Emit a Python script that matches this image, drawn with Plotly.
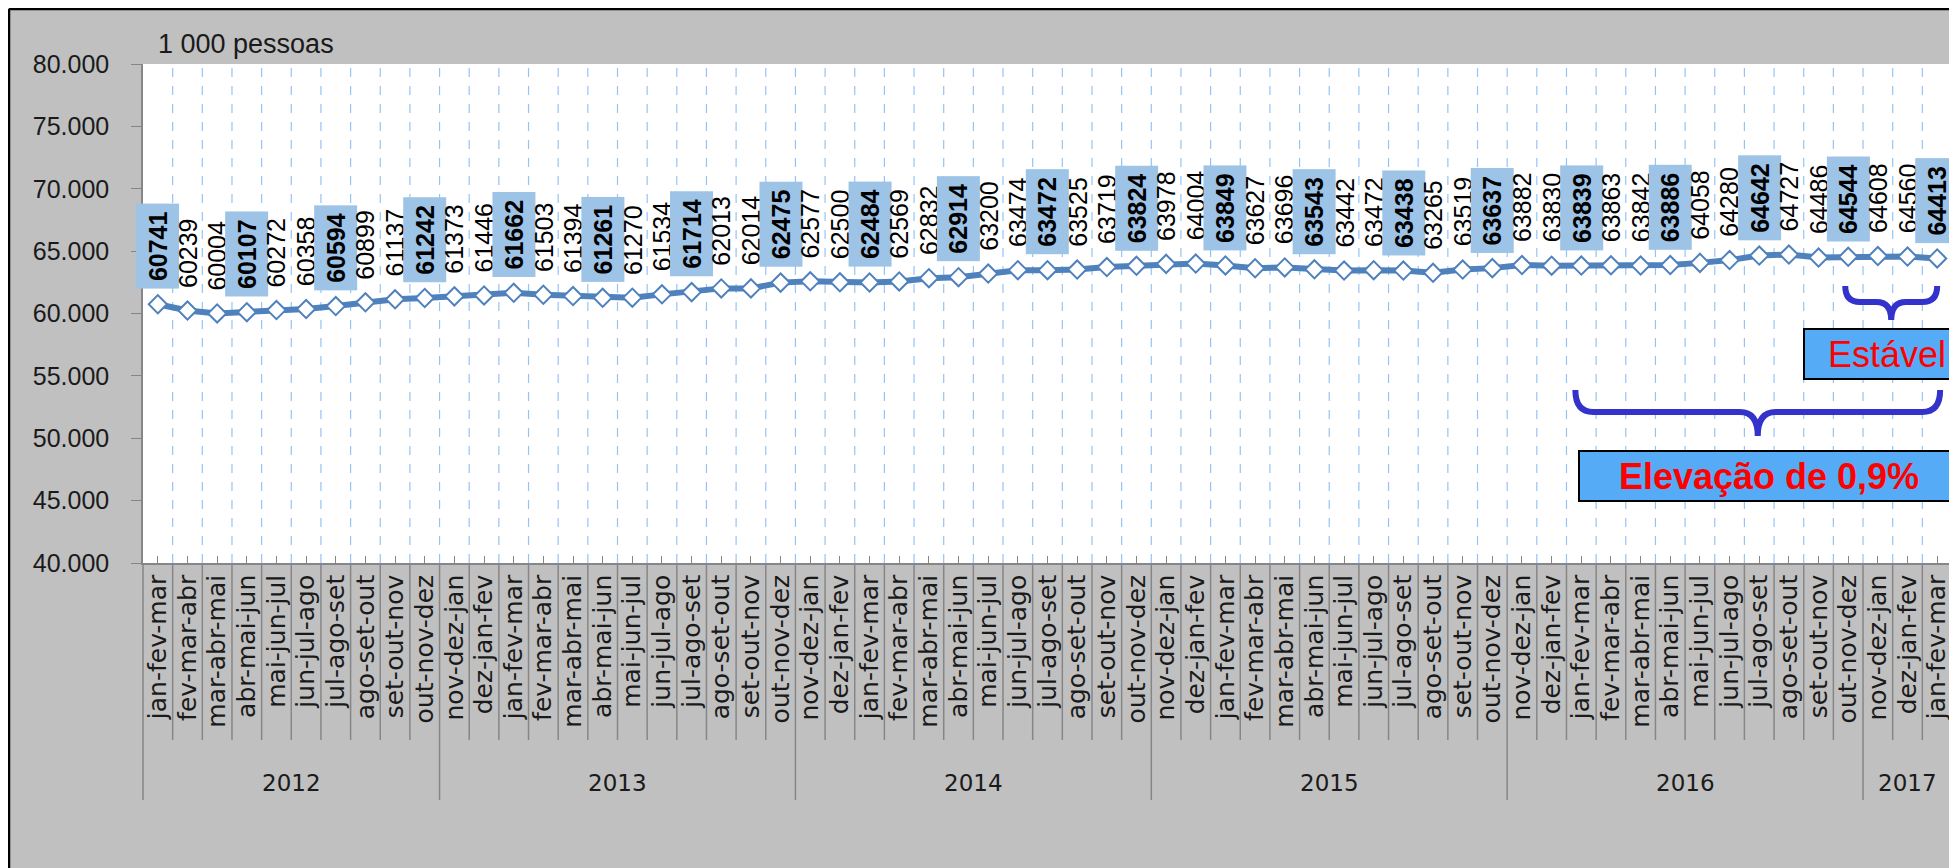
import plotly.graph_objects as go

# ---------------- data ----------------
years = ["2012"] * 10 + ["2013"] * 12 + ["2014"] * 12 + ["2015"] * 12 + ["2016"] * 12 + ["2017"] * 3

categories = [
    "jan-fev-mar", "fev-mar-abr", "mar-abr-mai", "abr-mai-jun", "mai-jun-jul", "jun-jul-ago",
    "jul-ago-set", "ago-set-out", "set-out-nov", "out-nov-dez",
    "nov-dez-jan", "dez-jan-fev", "jan-fev-mar", "fev-mar-abr", "mar-abr-mai", "abr-mai-jun",
    "mai-jun-jul", "jun-jul-ago", "jul-ago-set", "ago-set-out", "set-out-nov", "out-nov-dez",
    "nov-dez-jan", "dez-jan-fev", "jan-fev-mar", "fev-mar-abr", "mar-abr-mai", "abr-mai-jun",
    "mai-jun-jul", "jun-jul-ago", "jul-ago-set", "ago-set-out", "set-out-nov", "out-nov-dez",
    "nov-dez-jan", "dez-jan-fev", "jan-fev-mar", "fev-mar-abr", "mar-abr-mai", "abr-mai-jun",
    "mai-jun-jul", "jun-jul-ago", "jul-ago-set", "ago-set-out", "set-out-nov", "out-nov-dez",
    "nov-dez-jan", "dez-jan-fev", "jan-fev-mar", "fev-mar-abr", "mar-abr-mai", "abr-mai-jun",
    "mai-jun-jul", "jun-jul-ago", "jul-ago-set", "ago-set-out", "set-out-nov", "out-nov-dez",
    "nov-dez-jan", "dez-jan-fev", "jan-fev-mar",
]

values = [
    60741, 60239, 60004, 60107, 60272, 60358, 60594, 60899, 61137, 61242,
    61373, 61446, 61662, 61503, 61394, 61261, 61270, 61534, 61714, 62013, 62014, 62475,
    62577, 62500, 62484, 62569, 62832, 62914, 63200, 63474, 63472, 63525, 63719, 63824,
    63978, 64004, 63849, 63627, 63696, 63543, 63442, 63472, 63438, 63265, 63519, 63637,
    63882, 63830, 63839, 63863, 63842, 63886, 64058, 64280, 64642, 64727, 64486, 64544,
    64608, 64560, 64413,
]

y_ticks = [40000, 45000, 50000, 55000, 60000, 65000, 70000, 75000, 80000]
unit_label = "1 000 pessoas"
note_stable = "Estável"
note_rise = "Elevação de 0,9%"

# ---------------- layout helpers (window pixel coordinates) ----------------
WIN_W, WIN_H = 1957, 868
OFF = 8  # page body margin
W, H = WIN_W - OFF, WIN_H - OFF
L, R, T, B = 143, 1952, 64, 563  # plot area in window pixels
n = len(values)
xs = list(range(n))


def px(X):
    return (X - L) / (R - L)


def py(Y):
    return (B - Y) / (B - T)


def xpaper(xv):
    return (xv + 0.5) / n


LINE_BLUE = "rgb(79,129,189)"
GRID_BLUE = "rgb(150,195,245)"
SEP_GRAY = "rgb(134,134,134)"
BOX_BLUE = "rgb(157,195,230)"
BRACE = "rgb(51,51,204)"
NOTE_BG = "rgb(86,171,246)"

fig = go.Figure()
fig.add_trace(go.Scatter(
    x=xs, y=values, mode="lines+markers",
    line=dict(color=LINE_BLUE, width=6),
    marker=dict(symbol="diamond", size=14, color="white",
                line=dict(color=LINE_BLUE, width=2)),
    hoverinfo="skip", showlegend=False,
))

shapes = []
# black frame
shapes.append(dict(type="line", xref="paper", yref="paper", x0=px(9), x1=px(WIN_W + 20), y0=py(9), y1=py(9),
                   line=dict(color="black", width=2.5)))
shapes.append(dict(type="line", xref="paper", yref="paper", x0=px(9), x1=px(9), y0=py(9), y1=py(WIN_H + 20),
                   line=dict(color="black", width=2.5)))

# dashed vertical gridlines between categories
for i in range(n - 1):
    shapes.append(dict(type="line", xref="paper", yref="paper", x0=xpaper(i + 0.5), x1=xpaper(i + 0.5),
                       y0=0, y1=1, layer="below", line=dict(color=GRID_BLUE, width=1.2, dash="dash")))

# category separators below the axis, and year separators
year_bounds = [0]
for i in range(1, n):
    if years[i] != years[i - 1]:
        year_bounds.append(i)
year_bounds.append(n)
for i in range(n + 1):
    xb = xpaper(i - 0.5)
    long_ = i in year_bounds
    shapes.append(dict(type="line", xref="paper", yref="paper", x0=xb, x1=xb, y0=0,
                       y1=py(800) if long_ else py(740),
                       line=dict(color=SEP_GRAY, width=1.5)))


# braces
def brace(x0, x1, ytop, ymid, ytip, r=0.6):
    xc = (x0 + x1) / 2
    a, b, c = py(ytop), py(ymid), py(ytip)
    path = (f"M {x0},{a} Q {x0},{b} {x0 + r},{b} L {xc - r},{b} Q {xc},{b} {xc},{c} "
            f"Q {xc},{b} {xc + r},{b} L {x1 - r},{b} Q {x1},{b} {x1},{a}")
    return dict(type="path", xref="x", yref="paper", path=path,
                line=dict(color=BRACE, width=6), layer="above")


shapes.append(brace(47.8, 60.1, 390, 412, 436))
shapes.append(brace(56.9, 60.0, 286, 302, 320, r=0.5))

annotations = []
# value labels
for i, v in enumerate(values):
    bold = (i % 3 == 0)
    annotations.append(dict(
        x=i, y=v, xref="x", yref="y", text=f"<b>{v}</b>" if bold else str(v),
        textangle=-90, showarrow=False, yanchor="bottom", xanchor="center", yshift=15,
        font=dict(family="Liberation Sans, Arial", size=25, color="black"),
        bgcolor=BOX_BLUE if bold else "rgba(0,0,0,0)", borderpad=7,
    ))

# year labels
for k in range(len(year_bounds) - 1):
    a, b = year_bounds[k], year_bounds[k + 1]
    annotations.append(dict(
        x=xpaper((a + b - 1) / 2), y=py(783), xref="paper", yref="paper", text=years[a],
        showarrow=False, xanchor="center", yanchor="middle",
        font=dict(family="DejaVu Sans", size=23, color="#1a1a1a"),
    ))

# unit label
annotations.append(dict(x=px(156), y=py(44), xref="paper", yref="paper", text=unit_label,
                        showarrow=False, xanchor="left", yanchor="middle",
                        font=dict(family="Liberation Sans, Arial", size=27, color="#1a1a1a")))

# notes
annotations.append(dict(x=px(1803), y=py(354), xref="paper", yref="paper", text=note_stable,
                        showarrow=False, xanchor="left", yanchor="middle", width=160, height=44,
                        font=dict(family="Liberation Sans, Arial", size=36, color="red"),
                        bgcolor=NOTE_BG, bordercolor="black", borderwidth=2, borderpad=2))
annotations.append(dict(x=px(1578), y=py(476), xref="paper", yref="paper", text=f"<b>{note_rise}</b>",
                        showarrow=False, xanchor="left", yanchor="middle", width=374, height=44,
                        font=dict(family="Liberation Sans, Arial", size=36, color="red"),
                        bgcolor=NOTE_BG, bordercolor="black", borderwidth=2, borderpad=2))

fig.update_layout(
    width=W, height=H,
    margin=dict(l=L - OFF, r=WIN_W - R, t=T - OFF, b=WIN_H - B, autoexpand=False),
    paper_bgcolor="rgb(192,192,192)",
    plot_bgcolor="white",
    separators=",.",
    shapes=shapes,
    annotations=annotations,
    xaxis=dict(
        range=[-0.5, n - 0.5], tickmode="array", tickvals=xs, ticktext=categories,
        tickangle=-90, tickfont=dict(family="DejaVu Sans", size=25, color="#1a1a1a"),
        showgrid=False, zeroline=False, showline=True, linecolor=SEP_GRAY, linewidth=1.5,
        ticks="inside", ticklen=7, tickcolor=SEP_GRAY, automargin=False,
    ),
    yaxis=dict(
        range=[40000, 80000], tickmode="array", tickvals=y_ticks, tickformat=",.0f",
        showgrid=False, zeroline=False, showline=True, linecolor=SEP_GRAY, linewidth=1.5,
        ticks="outside", ticklen=10, tickcolor=SEP_GRAY, ticklabelstandoff=17, automargin=False,
        tickfont=dict(family="Liberation Sans, Arial", size=25, color="#1a1a1a"),
    ),
)

fig.write_html("out.html")
